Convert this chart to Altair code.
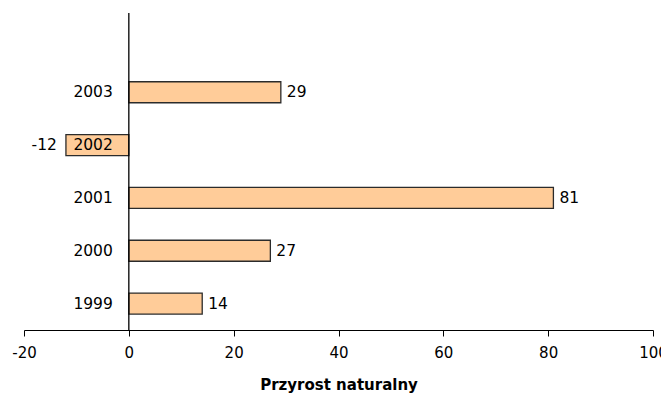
import altair as alt
import pandas as pd

years = ["2003", "2002", "2001", "2000", "1999"]
values = [29, -12, 81, 27, 14]
y_domain = [""] + years
x_ticks = [-20, 0, 20, 40, 60, 80, 100]

df = pd.DataFrame({"year": years, "value": values})
df["label"] = df["value"].astype(str)

FONT = "DejaVu Sans"
FS = 15

y_enc = alt.Y("year:N", scale=alt.Scale(domain=y_domain, paddingInner=0, paddingOuter=0), axis=None)
x_scale = alt.Scale(domain=[-20, 100], nice=False, zero=False)

base = alt.Chart(df)

bars = base.mark_bar(size=21, color="#FFCC99", stroke="#2b2b2b", strokeWidth=1.3).encode(
    x=alt.X("value:Q", scale=x_scale,
            axis=alt.Axis(values=x_ticks, title="Przyrost naturalny", grid=False,
                          labelExpr="'' + datum.value", labelFlush=False, labelOverlap=False,
                          domainColor="black", tickColor="black", tickSize=6,
                          labelFont=FONT, labelFontSize=FS, labelColor="black",
                          labelPadding=9, titleFont=FONT, titleFontSize=15,
                          titleFontWeight="bold", titleColor="black", titlePadding=17)),
    y=y_enc,
)

rule = alt.Chart(pd.DataFrame({"z": [0]})).mark_rule(color="black", strokeWidth=1.3).encode(
    x=alt.X("z:Q", scale=x_scale)
)

year_labels = base.mark_text(align="right", baseline="middle", dx=-16, font=FONT, fontSize=15.5, color="black").encode(
    x=alt.datum(0), y=y_enc, text="year:N"
)

pos_labels = base.transform_filter("datum.value >= 0").mark_text(
    align="left", baseline="middle", dx=6, font=FONT, fontSize=15.5, color="black").encode(
    x="value:Q", y=y_enc, text="label:N"
)
neg_labels = base.transform_filter("datum.value < 0").mark_text(
    align="right", baseline="middle", dx=-9, font=FONT, fontSize=15.5, color="black").encode(
    x="value:Q", y=y_enc, text="label:N"
)

chart = alt.layer(bars, rule, year_labels, pos_labels, neg_labels).properties(
    width=629, height=317,
    autosize=alt.AutoSizeParams(type="none"),
    padding={"left": 16, "top": 5, "right": 8, "bottom": 64},
    background="white",
).configure_view(stroke=None)

chart.save("out.html", embed_options={"renderer": "svg", "actions": False})
